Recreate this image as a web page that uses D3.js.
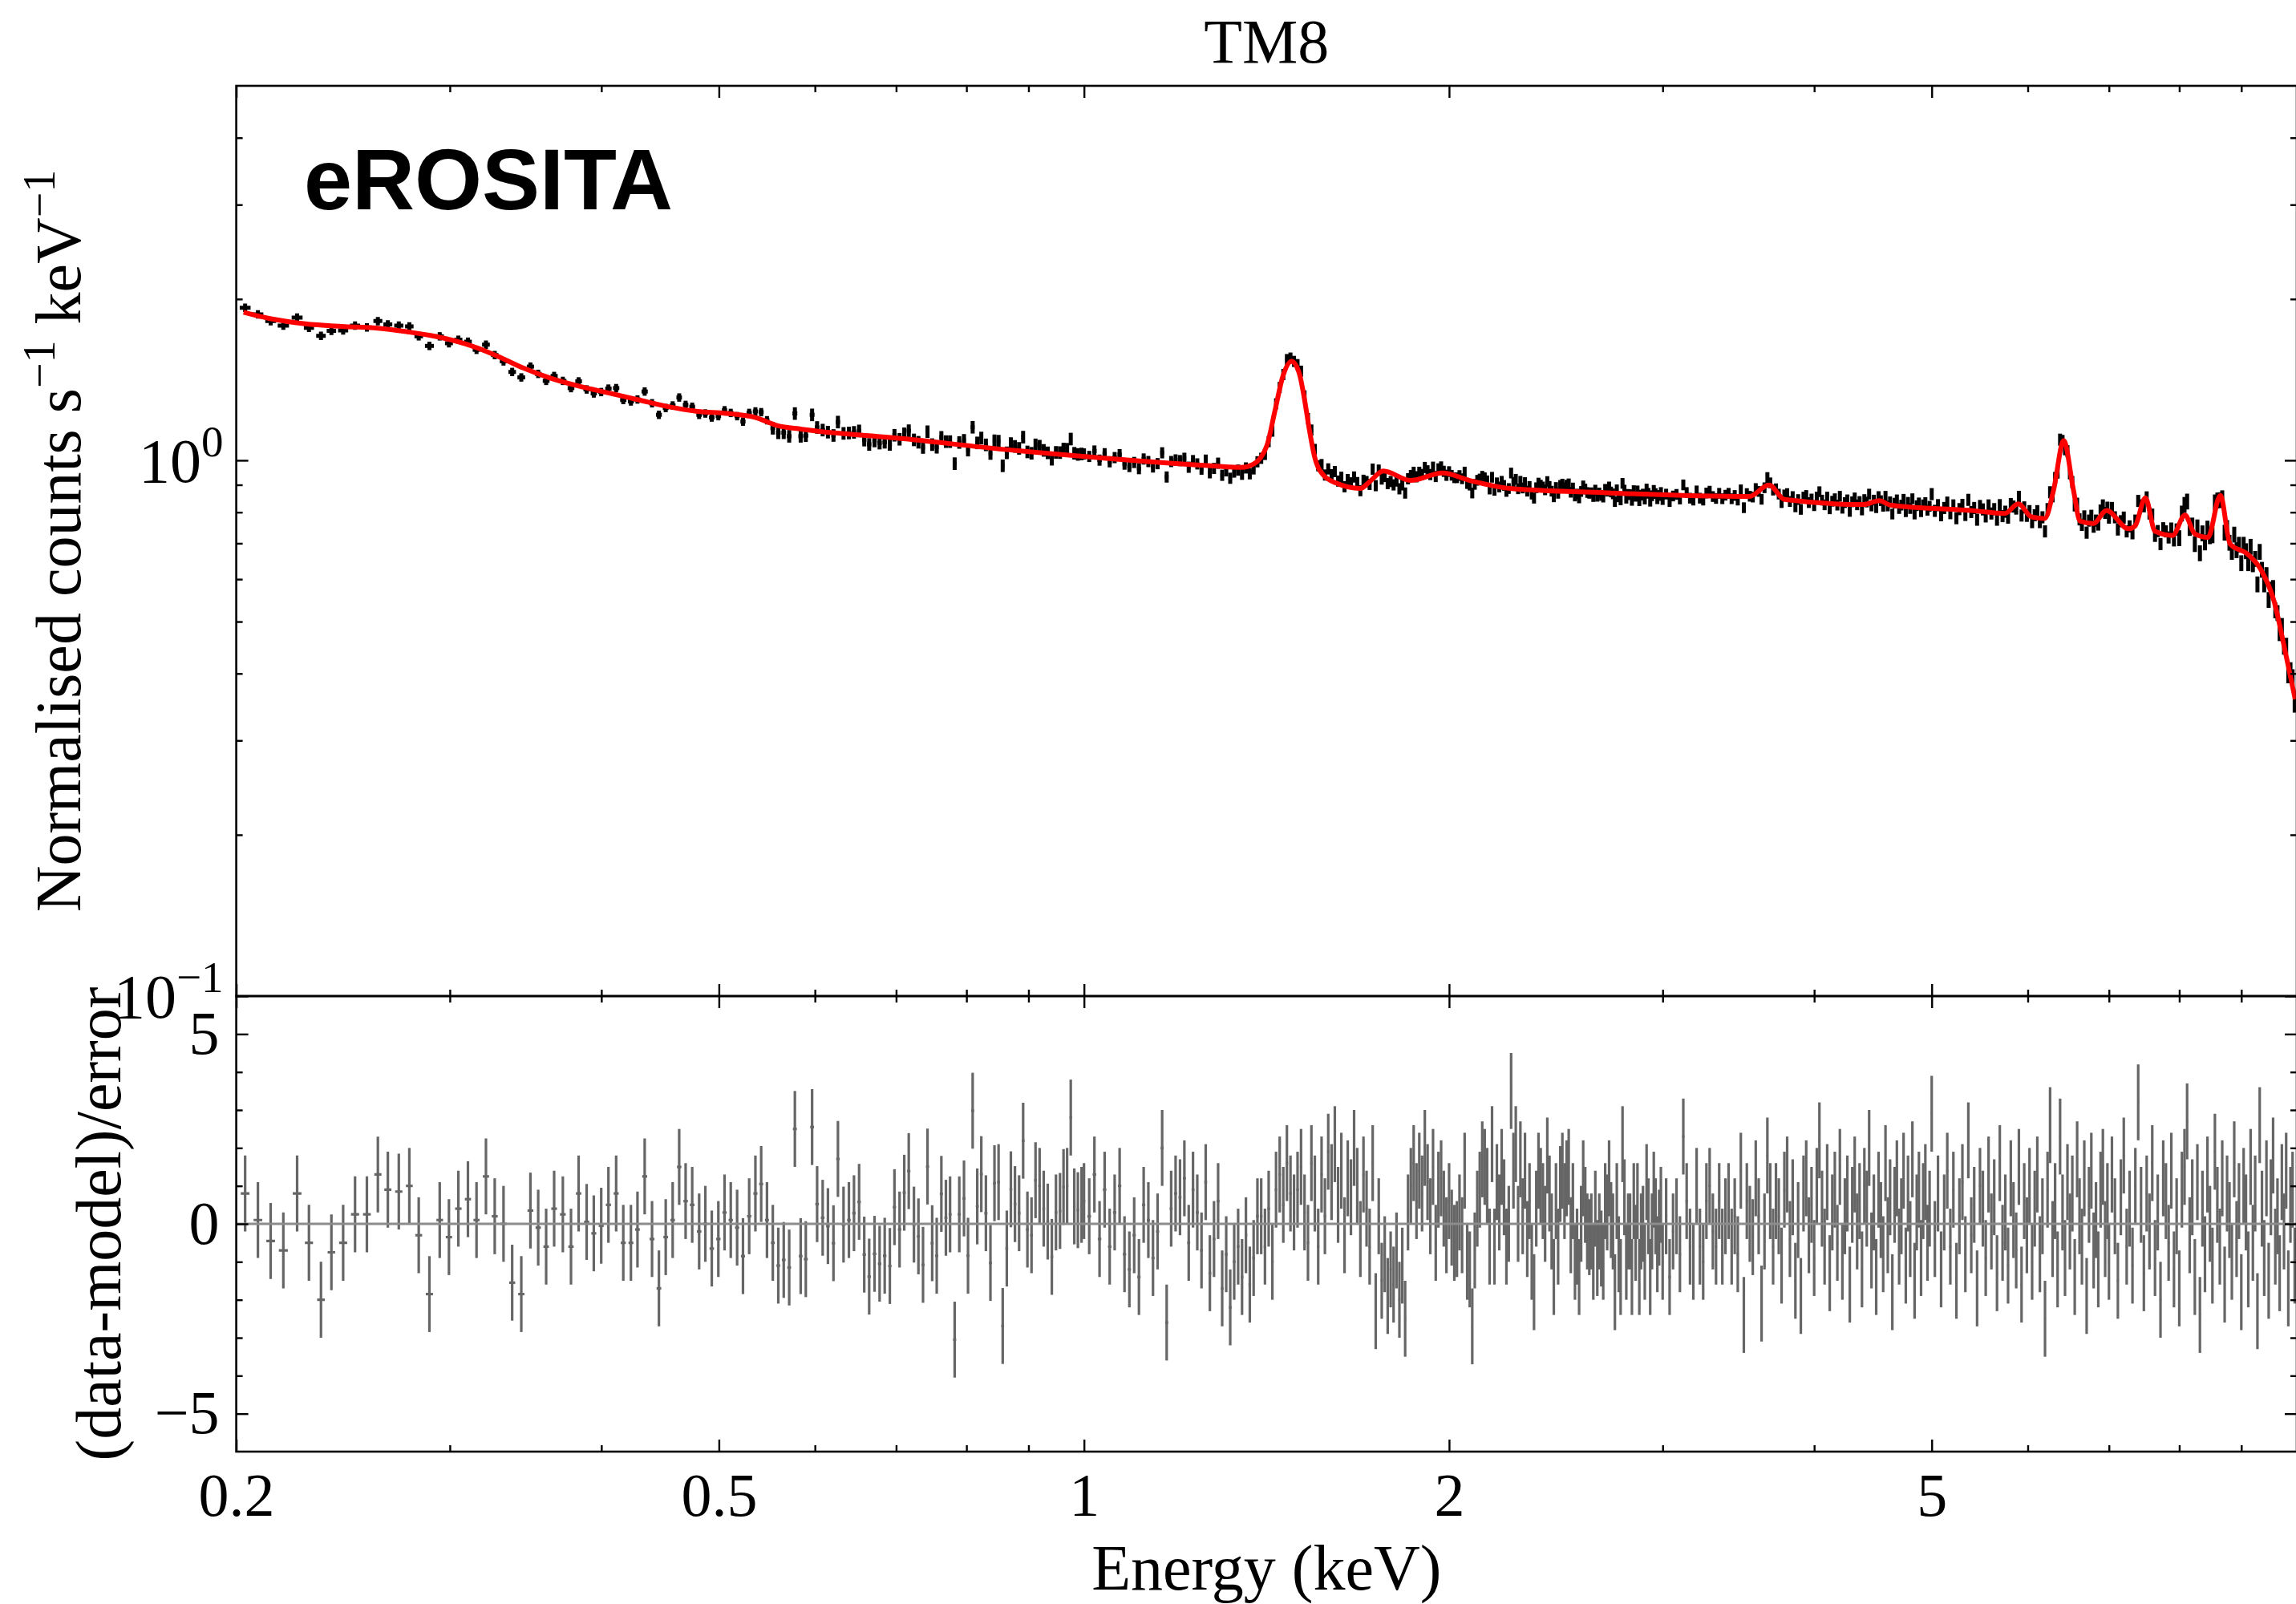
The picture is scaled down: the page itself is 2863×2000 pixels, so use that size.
<!DOCTYPE html>
<html>
<head>
<meta charset="utf-8">
<script src="https://cdn.jsdelivr.net/npm/d3@7"></script>
<style>
    body { margin: 0; background: #ffffff; }
</style>
</head>
<body>
<script>
(function () {

    // bin centres (keV)
    var energy = [
        0.2034, 0.2084, 0.2135, 0.2187, 0.2245, 0.2296, 0.2349, 0.2396, 0.2450, 0.2506,
        0.2563, 0.2617, 0.2667, 0.2723, 0.2778, 0.2828, 0.2886, 0.2943, 0.2995, 0.3049,
        0.3105, 0.3156, 0.3213, 0.3267, 0.3322, 0.3377, 0.3436, 0.3496, 0.3548, 0.3602,
        0.3657, 0.3718, 0.3776, 0.3831, 0.3890, 0.3943, 0.3999, 0.4054, 0.4114, 0.4170,
        0.4231, 0.4284, 0.4343, 0.4404, 0.4462, 0.4520, 0.4580, 0.4637, 0.4694, 0.4753,
        0.4816, 0.4873, 0.4933, 0.4995, 0.5054, 0.5114, 0.5176, 0.5234, 0.5296, 0.5359,
        0.5418, 0.5478, 0.5539, 0.5597, 0.5655, 0.5714, 0.5776, 0.5840,
        0.5897, 0.5968, 0.6025, 0.6089, 0.6150, 0.6215, 0.6268, 0.6335, 0.6400, 0.6462,
        0.6525, 0.6589, 0.6651, 0.6719, 0.6784, 0.6850, 0.6917, 0.6978, 0.7046, 0.7109,
        0.7170, 0.7241, 0.7303, 0.7367, 0.7430, 0.7496, 0.7561, 0.7628, 0.7694, 0.7755,
        0.7823, 0.7892, 0.7963, 0.8024, 0.8095, 0.8166, 0.8229, 0.8301, 0.8373, 0.8437,
        0.8503, 0.8570, 0.8637, 0.8704, 0.8772, 0.8841, 0.8909, 0.8982, 0.9052, 0.9121,
        0.9192, 0.9264, 0.9335, 0.9408, 0.9482, 0.9555, 0.9619, 0.9685, 0.9752, 0.9818,
        0.9885, 0.9954,
        1.00, 1.01, 1.02, 1.03, 1.04, 1.05, 1.06, 1.07, 1.08, 1.09,
        1.10, 1.11, 1.12, 1.13, 1.14, 1.15, 1.16, 1.17, 1.18, 1.19,
        1.20, 1.21, 1.22, 1.23, 1.24, 1.25, 1.26, 1.27, 1.28, 1.29,
        1.30, 1.31, 1.32, 1.33, 1.34, 1.35, 1.36, 1.37, 1.38, 1.39,
        1.40, 1.41, 1.42, 1.43, 1.44, 1.45, 1.46, 1.47, 1.48, 1.49,
        1.50, 1.51, 1.52, 1.53, 1.54, 1.55, 1.56, 1.57, 1.58, 1.59,
        1.60, 1.61, 1.62, 1.63, 1.64, 1.65, 1.66, 1.67, 1.68, 1.69,
        1.70, 1.71, 1.72, 1.73, 1.74, 1.75, 1.76, 1.77, 1.78, 1.79,
        1.80, 1.81, 1.82, 1.83, 1.84, 1.85, 1.86, 1.87, 1.88, 1.89,
        1.90, 1.91, 1.92, 1.93, 1.94, 1.95, 1.96, 1.97, 1.98, 1.99,
        2.00, 2.01, 2.02, 2.03, 2.04, 2.05, 2.06, 2.07, 2.08, 2.09,
        2.10, 2.11, 2.12, 2.13, 2.14, 2.15, 2.16, 2.17, 2.18, 2.19,
        2.20, 2.21, 2.22, 2.23, 2.24, 2.25, 2.26, 2.27, 2.28, 2.29,
        2.30, 2.31, 2.32, 2.33, 2.34, 2.35, 2.36, 2.37, 2.38, 2.39,
        2.40, 2.41, 2.42, 2.43, 2.44, 2.45, 2.46, 2.47, 2.48, 2.49,
        2.50, 2.51, 2.52, 2.53, 2.54, 2.55, 2.56, 2.57, 2.58, 2.59,
        2.60, 2.61, 2.62, 2.63, 2.64, 2.65, 2.66, 2.67, 2.68, 2.69,
        2.70, 2.71, 2.72, 2.73, 2.74, 2.75, 2.76, 2.77, 2.78, 2.79,
        2.80, 2.81, 2.82, 2.83, 2.84, 2.85, 2.86, 2.87, 2.88, 2.89,
        2.90, 2.91, 2.92, 2.93, 2.94, 2.95, 2.96, 2.97, 2.98, 2.99,
        3.00, 3.02, 3.04, 3.06, 3.08, 3.10, 3.12, 3.14, 3.16, 3.18,
        3.20, 3.22, 3.24, 3.26, 3.28, 3.30, 3.32, 3.34, 3.36, 3.38,
        3.40, 3.42, 3.44, 3.46, 3.48, 3.50, 3.52, 3.54, 3.56, 3.58,
        3.60, 3.62, 3.64, 3.66, 3.68, 3.70, 3.72, 3.74, 3.76, 3.78,
        3.80, 3.82, 3.84, 3.86, 3.88, 3.90, 3.92, 3.94, 3.96, 3.98,
        4.00, 4.02, 4.04, 4.06, 4.08, 4.10, 4.12, 4.14, 4.16, 4.18,
        4.20, 4.22, 4.24, 4.26, 4.28, 4.30, 4.32, 4.34, 4.36, 4.38,
        4.40, 4.42, 4.44, 4.46, 4.48, 4.50, 4.52, 4.54, 4.56, 4.58,
        4.60, 4.62, 4.64, 4.66, 4.68, 4.70, 4.72, 4.74, 4.76, 4.78,
        4.80, 4.82, 4.84, 4.86, 4.88, 4.90, 4.92, 4.94, 4.96, 4.98,
        5.00, 5.03, 5.06, 5.09, 5.12, 5.15, 5.18, 5.21, 5.24, 5.27,
        5.30, 5.33, 5.36, 5.39, 5.42, 5.45, 5.48, 5.51, 5.54, 5.57,
        5.60, 5.63, 5.66, 5.69, 5.72, 5.75, 5.78, 5.81, 5.84, 5.87,
        5.90, 5.93, 5.96, 5.99, 6.02, 6.05, 6.08, 6.11, 6.14, 6.17,
        6.20, 6.23, 6.26, 6.29, 6.32, 6.35, 6.38, 6.41, 6.44, 6.47,
        6.50, 6.53, 6.56, 6.59, 6.62, 6.65, 6.68, 6.71, 6.74, 6.77,
        6.80, 6.83, 6.86, 6.89, 6.92, 6.95, 6.98,
        7.00, 7.04, 7.08, 7.12, 7.16, 7.20, 7.24, 7.28, 7.32, 7.36,
        7.40, 7.44, 7.48, 7.52, 7.56, 7.60, 7.64, 7.68, 7.72, 7.76,
        7.80, 7.84, 7.88, 7.92, 7.96,
        8.00, 8.04, 8.08, 8.12, 8.16, 8.20, 8.24, 8.28, 8.32, 8.36,
        8.40, 8.44, 8.48, 8.52, 8.56, 8.60, 8.64, 8.68, 8.72, 8.76,
        8.80, 8.84, 8.88, 8.92, 8.96,
        9.00, 9.04, 9.08, 9.12, 9.16, 9.20, 9.24, 9.28, 9.32, 9.36,
        9.40, 9.44, 9.48, 9.52, 9.56, 9.60, 9.64, 9.68, 9.72, 9.76,
        9.80, 9.84, 9.88, 9.92, 9.96
    ];

    // normalised counts s^-1 keV^-1
    var flux = [
        1.927, 1.873, 1.819, 1.784, 1.847, 1.767, 1.708, 1.744, 1.748, 1.784,
        1.771, 1.819, 1.793, 1.784, 1.778, 1.704, 1.635, 1.704, 1.654, 1.679,
        1.665, 1.608, 1.644, 1.572, 1.530, 1.462, 1.428, 1.496, 1.450, 1.407,
        1.437, 1.407, 1.364, 1.404, 1.356, 1.333, 1.341, 1.361, 1.364, 1.296,
        1.288, 1.299, 1.344, 1.278, 1.216, 1.252, 1.266, 1.310, 1.269, 1.259,
        1.216, 1.223, 1.202, 1.209, 1.240, 1.226, 1.209, 1.181, 1.226, 1.234,
        1.230, 1.188, 1.148, 1.126, 1.126, 1.109, 1.223, 1.109,
        1.112, 1.216, 1.152, 1.139, 1.129, 1.113, 1.179, 1.123, 1.125, 1.128,
        1.135, 1.091, 1.071, 1.087, 1.077, 1.081, 1.071, 1.114, 1.095, 1.121,
        1.136, 1.092, 1.081, 1.057, 1.131, 1.070, 1.058, 1.104, 1.084, 1.084,
        0.986, 1.080, 1.090, 1.045, 1.153, 1.078, 1.101, 1.069, 1.030, 1.088,
        1.086, 0.977, 1.033, 1.075, 1.062, 1.053, 1.105, 1.037, 1.031, 1.069,
        1.063, 1.044, 1.033, 1.005, 1.035, 1.034, 1.050, 1.049, 1.096, 1.031,
        1.026, 1.028,
        1.028, 1.017, 1.041, 1.001, 1.029, 0.994, 1.012, 1.025, 0.984, 0.974,
        0.991, 0.965, 1.006, 0.995, 0.972, 0.986, 1.033, 0.931, 0.995, 1.002,
        0.999, 1.009, 0.971, 0.999, 0.985, 0.963, 1.001, 0.948, 0.966, 0.988,
        0.938, 0.956, 0.926, 0.951, 0.959, 0.942, 0.968, 0.944, 0.964, 0.994,
        1.009, 1.026, 1.084, 1.134, 1.275, 1.368, 1.446, 1.542, 1.552, 1.530,
        1.509, 1.467, 1.319, 1.197, 1.139, 1.048, 0.977, 0.982, 0.939, 0.964,
        0.940, 0.953, 0.915, 0.930, 0.893, 0.921, 0.908, 0.931, 0.909, 0.878,
        0.918, 0.913, 0.902, 0.963, 0.897, 0.959, 0.923, 0.933, 0.905, 0.913,
        0.900, 0.915, 0.885, 0.900, 0.869, 0.924, 0.937, 0.950, 0.932, 0.950,
        0.941, 0.970, 0.956, 0.941, 0.971, 0.933, 0.964, 0.972, 0.954, 0.938,
        0.953, 0.938, 0.928, 0.928, 0.937, 0.924, 0.951, 0.905, 0.899, 0.869,
        0.902, 0.918, 0.923, 0.934, 0.928, 0.916, 0.884, 0.930, 0.879, 0.908,
        0.892, 0.914, 0.898, 0.875, 0.886, 0.947, 0.910, 0.922, 0.885, 0.914,
        0.888, 0.909, 0.876, 0.894, 0.865, 0.850, 0.889, 0.907, 0.899, 0.892,
        0.881, 0.913, 0.894, 0.876, 0.855, 0.890, 0.868, 0.898, 0.903, 0.889,
        0.899, 0.904, 0.872, 0.888, 0.858, 0.865, 0.851, 0.875, 0.896, 0.884,
        0.871, 0.868, 0.870, 0.856, 0.880, 0.857, 0.869, 0.860, 0.854, 0.883,
        0.876, 0.892, 0.873, 0.866, 0.838, 0.881, 0.855, 0.844, 0.906, 0.880,
        0.850, 0.864, 0.863, 0.842, 0.878, 0.857, 0.877, 0.841, 0.861, 0.865,
        0.847, 0.884, 0.868, 0.839, 0.859, 0.879, 0.867, 0.848, 0.860, 0.871,
        0.845, 0.865, 0.838, 0.858, 0.864, 0.847, 0.900, 0.871, 0.850, 0.843,
        0.877, 0.850, 0.843, 0.869, 0.876, 0.856, 0.849, 0.868, 0.848, 0.861,
        0.868, 0.848, 0.860, 0.843, 0.881, 0.816, 0.867, 0.857, 0.854, 0.886,
        0.875, 0.846, 0.889, 0.929, 0.908, 0.880, 0.885, 0.865, 0.834, 0.862,
        0.867, 0.838, 0.856, 0.819, 0.845, 0.810, 0.854, 0.860, 0.834, 0.847,
        0.823, 0.854, 0.874, 0.843, 0.826, 0.854, 0.812, 0.839, 0.848, 0.825,
        0.857, 0.814, 0.834, 0.844, 0.803, 0.837, 0.851, 0.826, 0.838, 0.808,
        0.845, 0.836, 0.865, 0.822, 0.843, 0.816, 0.856, 0.841, 0.821, 0.857,
        0.822, 0.837, 0.794, 0.832, 0.844, 0.813, 0.825, 0.846, 0.802, 0.835,
        0.813, 0.848, 0.794, 0.823, 0.833, 0.802, 0.826, 0.834, 0.807, 0.821,
        0.865, 0.805, 0.825, 0.790, 0.815, 0.834, 0.797, 0.824, 0.780, 0.811,
        0.826, 0.791, 0.844, 0.801, 0.815, 0.775, 0.822, 0.810, 0.786, 0.824,
        0.796, 0.811, 0.775, 0.825, 0.787, 0.802, 0.782, 0.829, 0.820, 0.813,
        0.855, 0.789, 0.817, 0.788, 0.804, 0.767, 0.790, 0.804, 0.767, 0.783,
        0.737, 0.811, 0.872, 0.857, 0.927, 0.949, 1.093, 1.087, 1.049, 1.040,
        0.946, 0.911, 0.824, 0.830, 0.776, 0.758, 0.786, 0.733, 0.772, 0.788,
        0.752, 0.772, 0.759, 0.806, 0.824, 0.798, 0.816,
        0.782, 0.815, 0.783, 0.743, 0.770, 0.782, 0.737, 0.753, 0.731, 0.772,
        0.840, 0.824, 0.821, 0.853, 0.796, 0.792, 0.723, 0.738, 0.698, 0.747,
        0.737, 0.718, 0.746, 0.709, 0.743,
        0.716, 0.796, 0.826, 0.838, 0.748, 0.756, 0.698, 0.750, 0.671, 0.731,
        0.703, 0.746, 0.722, 0.725, 0.835, 0.842, 0.843, 0.850, 0.733, 0.748,
        0.702, 0.675, 0.727, 0.680, 0.696,
        0.643, 0.696, 0.677, 0.643, 0.690, 0.640, 0.655, 0.587, 0.675, 0.625,
        0.587, 0.611, 0.549, 0.574, 0.578, 0.525, 0.519, 0.476, 0.491, 0.449,
        0.451, 0.397, 0.406, 0.394, 0.350
    ];

    // (data-model)/error
    var resid = [
        0.8, 0.1, -0.45, -0.7, 0.8, -0.5, -2.0, -0.75, -0.5, 0.25,
        0.25, 1.3, 0.9, 0.85, 1.0, -0.3, -1.85, 0.1, -0.35, 0.4,
        0.65, 0.1, 1.25, 0.2, 0.0, -1.55, -1.85, 0.35, -0.1, -0.6,
        0.4, 0.25, -0.6, 0.8, 0.05, -0.25, -0.05, 0.5, 0.8, -0.5,
        -0.5, -0.15, 1.25, -0.4, -1.7, -0.35, 0.1, 1.5, 0.6, 0.5,
        -0.2, 0.0, -0.65, -0.4, 0.3, 0.1, -0.1, -0.85, 0.2, 0.8,
        1.05, 0.1, -0.5, -1.1, -0.95, -1.15, 2.5, -0.85,
        -0.93, 2.55, 0.52, 0.16, -0.06, -0.51, 1.71, -0.02, 0.1, 0.28,
        0.58, -0.81, -1.39, -0.79, -1.05, -0.84, -1.11, 0.44, -0.15, 0.82,
        1.39, -0.02, -0.33, -1.08, 1.51, -0.51, -0.84, 0.79, 0.16, 0.25,
        -3.05, 0.25, 0.67, -0.84, 2.98, 0.46, 1.31, 0.28, -1.03, 1.07,
        1.1, -2.69, -0.65, 0.91, 0.52, 0.28, 2.19, -0.15, -0.3, 1.15,
        1.0, 0.4, 0.06, -0.87, 0.3, 0.34, 0.97, 1.0, 2.8, 0.46,
        0.36, 0.5,
        0.6, 0.2, 1.3, -0.4, 0.9, -0.6, 0.3, 1.0, -0.8, -1.2,
        -0.3, -1.4, 0.5, 0.1, -0.9, -0.2, 2.0, -2.6, 0.4, 0.8,
        0.7, 1.2, -0.5, 0.9, 0.3, -0.7, 1.1, -1.3, -0.4, 0.6,
        -1.7, -0.8, -2.2, -1.0, -0.6, -1.4, -0.3, -1.6, -0.9, 0.2,
        0.2, -0.6, 0.4, -1.0, 0.9, 1.3, 0.5, 1.6, 0.8, 0.3,
        0.9, 1.5, 0.3, -0.5, 1.6, 0.8, -0.6, 1.3, 0.2, 1.9,
        1.1, 2.1, 0.5, 1.4, -0.3, 1.2, 0.7, 2.0, 1.0, -0.4,
        1.3, 0.4, -0.6, 1.6, -2.3, 0.2, -1.5, -0.8, -1.9, -1.2,
        -1.6, -0.7, -2.0, -1.1, -2.5, 0.3, 1.0, 1.6, 0.6, 1.4,
        0.8, 2.0, 1.1, 0.2, 1.5, -0.5, 0.9, 1.2, 0.4, -0.3,
        0.6, -0.1, -0.5, -0.4, 0.3, -0.3, 1.4, -1.0, -1.2, -2.7,
        -0.7, 0.4, 0.9, 1.7, 1.5, 1.0, -0.6, 2.1, -0.6, 1.1,
        0.3, 1.5, 0.7, -0.6, 0.0, 3.5, 1.4, 2.1, 0.0, 1.7,
        0.2, 1.4, -0.4, 0.6, -1.0, -1.8, 0.4, 1.4, 1.0, 0.6,
        0.0, 1.8, 0.8, -0.2, -1.4, 0.6, -0.6, 1.05, 1.4, 0.6,
        1.2, 1.5, -0.3, 0.6, -1.0, -0.6, -1.4, 0.0, 1.2, 0.5,
        -0.2, -0.35, -0.2, -1.0, 0.4, -0.9, -0.2, -0.65, -1.0, 0.6,
        0.3, 1.2, 0.1, -0.2, -1.8, 0.6, -0.8, -1.4, 2.1, 0.7,
        -1.0, -0.2, -0.2, -1.4, 0.6, -0.5, 0.6, -1.4, -0.2, 0.0,
        -1.0, 1.1, 0.2, -1.4, -0.2, 0.9, 0.2, -0.8, -0.1, 0.5,
        -1.0, 0.2, -1.4, -0.2, 0.2, -0.8, 2.3, 0.6, -0.6, -1.0,
        1.0, -0.6, -1.0, 0.6, 1.0, -0.2, -0.6, 0.6, -0.6, 0.2,
        0.6, -0.6, 0.2, -0.8, 1.4, -2.4, 0.6, 0.0, -0.35, 1.2,
        0.2, -2.1, -0.2, 1.8, 0.6, -0.6, 0.6, 0.2, -1.1, 0.9,
        1.3, -0.4, 0.7, -1.5, 0.1, -1.9, 0.8, 1.2, -0.3, 0.5,
        -0.9, 1.0, 2.2, 0.4, -0.6, 1.1, -1.3, 0.3, 0.9, -0.5,
        1.5, -1.0, 0.2, 0.8, -1.6, 0.5, 1.3, -0.2, 0.6, -1.2,
        1.0, 0.4, 2.0, -0.7, 0.3, -1.4, 0.9, 0.1, -0.8, 1.6,
        -0.3, 0.7, -1.8, 0.5, 1.2, -0.6, 0.2, 1.4, -1.1, 0.8,
        -0.4, 1.7, -1.5, 0.3, 0.9, -0.9, 0.6, 1.1, -0.5, 0.4,
        2.9, -0.4, 0.8, -1.2, 0.3, 1.4, -0.6, 0.9, -1.5, 0.2,
        1.1, -0.8, 2.2, -0.3, 0.5, -1.7, 1.0, 0.4, -0.9, 1.3,
        -0.2, 0.7, -1.3, 1.6, -0.5, 0.3, -1.1, 1.2, 0.1, -0.7,
        1.5, -1.6, 0.6, -0.3, 1.0, -1.0, 0.4, 1.3, -0.8, 0.2,
        -2.5, 0.9, 2.6, -0.4, 0.6, -1.2, 2.3, 0.3, -0.9, 1.1,
        -0.2, 0.8, -1.4, 1.7, 0.2, -0.6, 1.2, -1.9, 0.5, 1.4,
        -0.7, 0.1, -1.2, 0.9, 1.5, -0.4, 0.6,
        -1.0, 1.3, 0.2, -1.5, 0.7, 1.8, -0.6, 0.4, -1.1, 1.0,
        3.2, 0.5, -1.3, 0.8, -0.2, 1.6, -0.9, 0.3, -2.0, 1.2,
        0.6, -0.5, 1.4, -1.2, 0.2,
        -1.7, 0.9, 1.5, 2.7, -0.3, 0.7, -1.4, 1.1, -2.4, 0.4,
        -0.8, 1.3, 0.0, -1.1, 1.9, 0.5, -0.6, 1.2, -1.6, 0.8,
        0.1, -1.0, 1.7, -0.4, 0.6,
        -1.8, 1.0, 0.3, -1.2, 1.5, -0.5, 0.8, -2.3, 2.6, 0.4,
        -0.9, 1.2, -1.5, 0.7, 1.8, -0.6, 0.2, -1.3, 1.1, -0.2,
        1.4, -1.7, 0.5, 0.9, -1.1
    ];

    // fractional 1-sigma error of the data, by energy band
    var errEdge = [0.2, 0.55, 1.0, 2.0, 5.0, 8.0];
    var errFrac = [0.018, 0.027, 0.024, 0.023, 0.026, 0.034];

    // folded best-fit model
    var modelE = [
        0.2028, 0.2128, 0.228, 0.2443, 0.2617, 0.2764, 0.2921, 0.3088, 0.3263, 0.3448,
        0.3642, 0.3849, 0.4067, 0.4298, 0.4543, 0.4800, 0.5072, 0.5360, 0.5585, 0.5853,
        0.7106, 0.863, 1.048, 1.272, 1.349, 1.379, 1.415, 1.437, 1.459, 1.483,
        1.505, 1.519, 1.534, 1.549, 1.575, 1.614, 1.690, 1.720, 1.765, 1.859,
        1.975, 2.080, 2.246, 2.682, 3.535, 3.671, 3.781, 4.395, 4.526, 4.622,
        5.420, 5.745, 5.893, 6.044, 6.197, 6.302, 6.424, 6.544, 6.627, 6.796,
        6.968, 7.265, 7.356, 7.501, 7.641, 7.900, 8.087, 8.238, 8.447, 8.649,
        8.810, 9.109, 9.341, 9.579, 9.782, 9.970
    ];
    var modelF = [
        1.889, 1.840, 1.798, 1.778, 1.764, 1.738, 1.703, 1.650, 1.575, 1.487,
        1.420, 1.372, 1.334, 1.296, 1.259, 1.234, 1.223, 1.202, 1.161, 1.143,
        1.097, 1.047, 1.008, 0.977, 0.970, 0.983, 1.065, 1.237, 1.437, 1.531,
        1.453, 1.310, 1.141, 1.017, 0.939, 0.907, 0.886, 0.912, 0.955, 0.917,
        0.947, 0.917, 0.886, 0.870, 0.856, 0.899, 0.845, 0.827, 0.841, 0.825,
        0.805, 0.796, 0.829, 0.784, 0.779, 0.880, 1.088, 0.880, 0.770, 0.762,
        0.806, 0.745, 0.754, 0.851, 0.737, 0.724, 0.790, 0.729, 0.718, 0.860,
        0.698, 0.668, 0.625, 0.545, 0.440, 0.358
    ];

    var xMajor = [0.2, 0.5, 1, 2, 5];
    var xMinor = [0.3, 0.4, 0.6, 0.7, 0.8, 0.9, 3, 4, 6, 7, 8, 9];
    var yMajor = [0.1, 1];
    var yMinor = [0.2, 0.3, 0.4, 0.5, 0.6, 0.7, 0.8, 0.9, 2, 3, 4];
    var rMajor = [-5, 0, 5];
    var rMinor = [-4, -3, -2, -1, 1, 2, 3, 4];

    var w = 2863;
    var h = 2000;
    var left = 294.6, right = 2864;
    var topY = 107, midY = 1242, botY = 1810;
    var serif = "'Liberation Serif', 'Times New Roman', serif";

    var svg = d3.select("body").append("svg")
        .attr("width", w)
        .attr("height", h)
        .style("display", "block");

    var x = d3.scaleLog().domain([0.2, 10]).range([left, right]);
    var y = d3.scaleLog().domain([0.1, 5]).range([midY, topY]);
    var yr = d3.scaleLinear().domain([-6, 6]).range([botY, midY]);

    var defs = svg.append("defs");
    defs.append("clipPath").attr("id", "clip-top").append("rect")
        .attr("x", left).attr("y", topY).attr("width", right - left).attr("height", midY - topY);
    defs.append("clipPath").attr("id", "clip-bot").append("rect")
        .attr("x", left).attr("y", midY).attr("width", right - left).attr("height", botY - midY);

    var bins = energy.map(function (e, i) {
        var prev = i > 0 ? energy[i - 1] : e * e / energy[i + 1];
        var next = i < energy.length - 1 ? energy[i + 1] : e * e / energy[i - 1];
        var k = Math.max(d3.bisectRight(errEdge, e) - 1, 0);
        return {
            e: e,
            f: flux[i],
            r: resid[i],
            lo: Math.sqrt(prev * e),
            hi: Math.sqrt(e * next),
            err: flux[i] * errFrac[k]
        };
    });

    function halfW(d) { return (x(d.hi) - x(d.lo)) / 2 * 0.85; }

    // ---- top panel: data + model
    var gTop = svg.append("g").attr("clip-path", "url(#clip-top)");
    var gData = gTop.append("g").attr("stroke", "#000000").attr("stroke-width", 5);

    gData.selectAll("line.xe")
        .data(bins)
        .enter()
        .append("line")
        .attr("class", "xe")
        .attr("x1", function (d) { return x(d.e) - halfW(d); })
        .attr("x2", function (d) { return x(d.e) + halfW(d); })
        .attr("y1", function (d) { return y(d.f); })
        .attr("y2", function (d) { return y(d.f); });

    gData.selectAll("line.ye")
        .data(bins)
        .enter()
        .append("line")
        .attr("class", "ye")
        .attr("x1", function (d) { return x(d.e); })
        .attr("x2", function (d) { return x(d.e); })
        .attr("y1", function (d) { return y(d.f - d.err); })
        .attr("y2", function (d) { return y(d.f + d.err); });

    var model = d3.line()
        .x(function (d) { return x(d[0]); })
        .y(function (d) { return y(d[1]); })
        .curve(d3.curveMonotoneX);

    gTop.append("path")
        .datum(d3.zip(modelE, modelF))
        .attr("d", model)
        .attr("fill", "none")
        .attr("stroke", "#ff0000")
        .attr("stroke-width", 6)
        .attr("stroke-linejoin", "round");

    // ---- bottom panel: residuals
    var gBot = svg.append("g").attr("clip-path", "url(#clip-bot)");
    var gRes = gBot.append("g").attr("stroke", "#666666").attr("stroke-width", 3.2);

    gRes.selectAll("line.re")
        .data(bins)
        .enter()
        .append("line")
        .attr("x1", function (d) { return x(d.e); })
        .attr("x2", function (d) { return x(d.e); })
        .attr("y1", function (d) { return yr(d.r - 1); })
        .attr("y2", function (d) { return yr(d.r + 1); });

    gRes.selectAll("line.rc")
        .data(bins)
        .enter()
        .append("line")
        .attr("x1", function (d) { return x(d.e) - halfW(d) * 0.8; })
        .attr("x2", function (d) { return x(d.e) + halfW(d) * 0.8; })
        .attr("y1", function (d) { return yr(d.r); })
        .attr("y2", function (d) { return yr(d.r); });

    gBot.append("line")
        .attr("x1", left).attr("x2", right)
        .attr("y1", yr(0)).attr("y2", yr(0))
        .attr("stroke", "#8c8c8c")
        .attr("stroke-width", 2.8);

    // ---- frames
    [[topY, midY], [midY, botY]].forEach(function (p) {
        svg.append("rect")
            .attr("x", left).attr("y", p[0])
            .attr("width", right - left).attr("height", p[1] - p[0])
            .attr("fill", "none")
            .attr("stroke", "#000000")
            .attr("stroke-width", 2.6);
    });

    // ---- ticks (all pointing inwards)
    function ticks(axisFn, scale, values, size, tx, ty, fmt, pad) {
        var g = svg.append("g")
            .attr("transform", "translate(" + tx + "," + ty + ")")
            .call(axisFn(scale).tickValues(values).tickSize(size)
                .tickPadding(pad || 0).tickFormat(fmt || function () { return ""; }));
        g.select(".domain").remove();
        g.attr("font-family", serif).attr("font-size", 76);
        g.selectAll("line").attr("stroke", "#000000").attr("stroke-width", 2.4);
        g.selectAll("text").attr("fill", "#000000");
        return g;
    }
    var MAJ = -15, MIN = -8;

    // top panel
    ticks(d3.axisTop, x, xMajor, MAJ, 0, topY);
    ticks(d3.axisTop, x, xMinor, MIN, 0, topY);
    ticks(d3.axisBottom, x, xMajor, MAJ, 0, midY);
    ticks(d3.axisBottom, x, xMinor, MIN, 0, midY);
    ticks(d3.axisLeft, y, yMajor, MAJ, left, 0);
    ticks(d3.axisLeft, y, yMinor, MIN, left, 0);
    ticks(d3.axisRight, y, yMajor, MAJ, right, 0);
    ticks(d3.axisRight, y, yMinor, MIN, right, 0);

    // bottom panel
    ticks(d3.axisTop, x, xMajor, MAJ, 0, midY);
    ticks(d3.axisTop, x, xMinor, MIN, 0, midY);
    ticks(d3.axisBottom, x, xMajor, MAJ, 0, botY, function (d) { return String(d); }, 26);
    ticks(d3.axisBottom, x, xMinor, MIN, 0, botY);
    ticks(d3.axisLeft, yr, rMajor, MAJ, left, 0,
        function (d) { return d < 0 ? "\u2212" + (-d) : String(d); }, 21);
    ticks(d3.axisLeft, yr, rMinor, MIN, left, 0);
    ticks(d3.axisRight, yr, rMajor, MAJ, right, 0);
    ticks(d3.axisRight, yr, rMinor, MIN, right, 0);

    // log tick labels 10^n
    yMajor.forEach(function (v) {
        var t = svg.append("text")
            .attr("x", left - 16)
            .attr("y", y(v) + 27)
            .attr("text-anchor", "end")
            .attr("font-family", serif)
            .attr("font-size", 78)
            .attr("fill", "#000000");
        t.append("tspan").text("10");
        t.append("tspan")
            .attr("dy", -32)
            .attr("font-size", 55)
            .text(Math.round(Math.log10(v)) < 0 ? "\u2212" + (-Math.round(Math.log10(v))) : "0");
    });

    // ---- texts
    svg.append("text")
        .attr("x", (left + right) / 2)
        .attr("y", 78)
        .attr("text-anchor", "middle")
        .attr("font-family", serif)
        .attr("font-size", 78)
        .text("TM8");

    svg.append("text")
        .attr("x", 379)
        .attr("y", 261)
        .attr("font-family", "'Liberation Sans', Arial, sans-serif")
        .attr("font-weight", "bold")
        .attr("font-size", 108)
        .text("eROSITA");

    svg.append("text")
        .attr("x", (left + right) / 2)
        .attr("y", 1982)
        .attr("text-anchor", "middle")
        .attr("font-family", serif)
        .attr("font-size", 80)
        .text("Energy (keV)");

    var yl = svg.append("text")
        .attr("transform", "translate(100," + (topY + midY) / 2 + ") rotate(-90)")
        .attr("text-anchor", "middle")
        .attr("font-family", serif)
        .attr("font-size", 80);
    yl.append("tspan").text("Normalised counts s");
    yl.append("tspan").attr("dy", -32).attr("font-size", 56).text("\u22121");
    yl.append("tspan").attr("dy", 32).text(" keV");
    yl.append("tspan").attr("dy", -32).attr("font-size", 56).text("\u22121");

    svg.append("text")
        .attr("transform", "translate(150," + (midY + botY) / 2 + ") rotate(-90)")
        .attr("text-anchor", "middle")
        .attr("font-family", serif)
        .attr("font-size", 80)
        .text("(data-model)/error");
})();
</script>
</body>
</html>
